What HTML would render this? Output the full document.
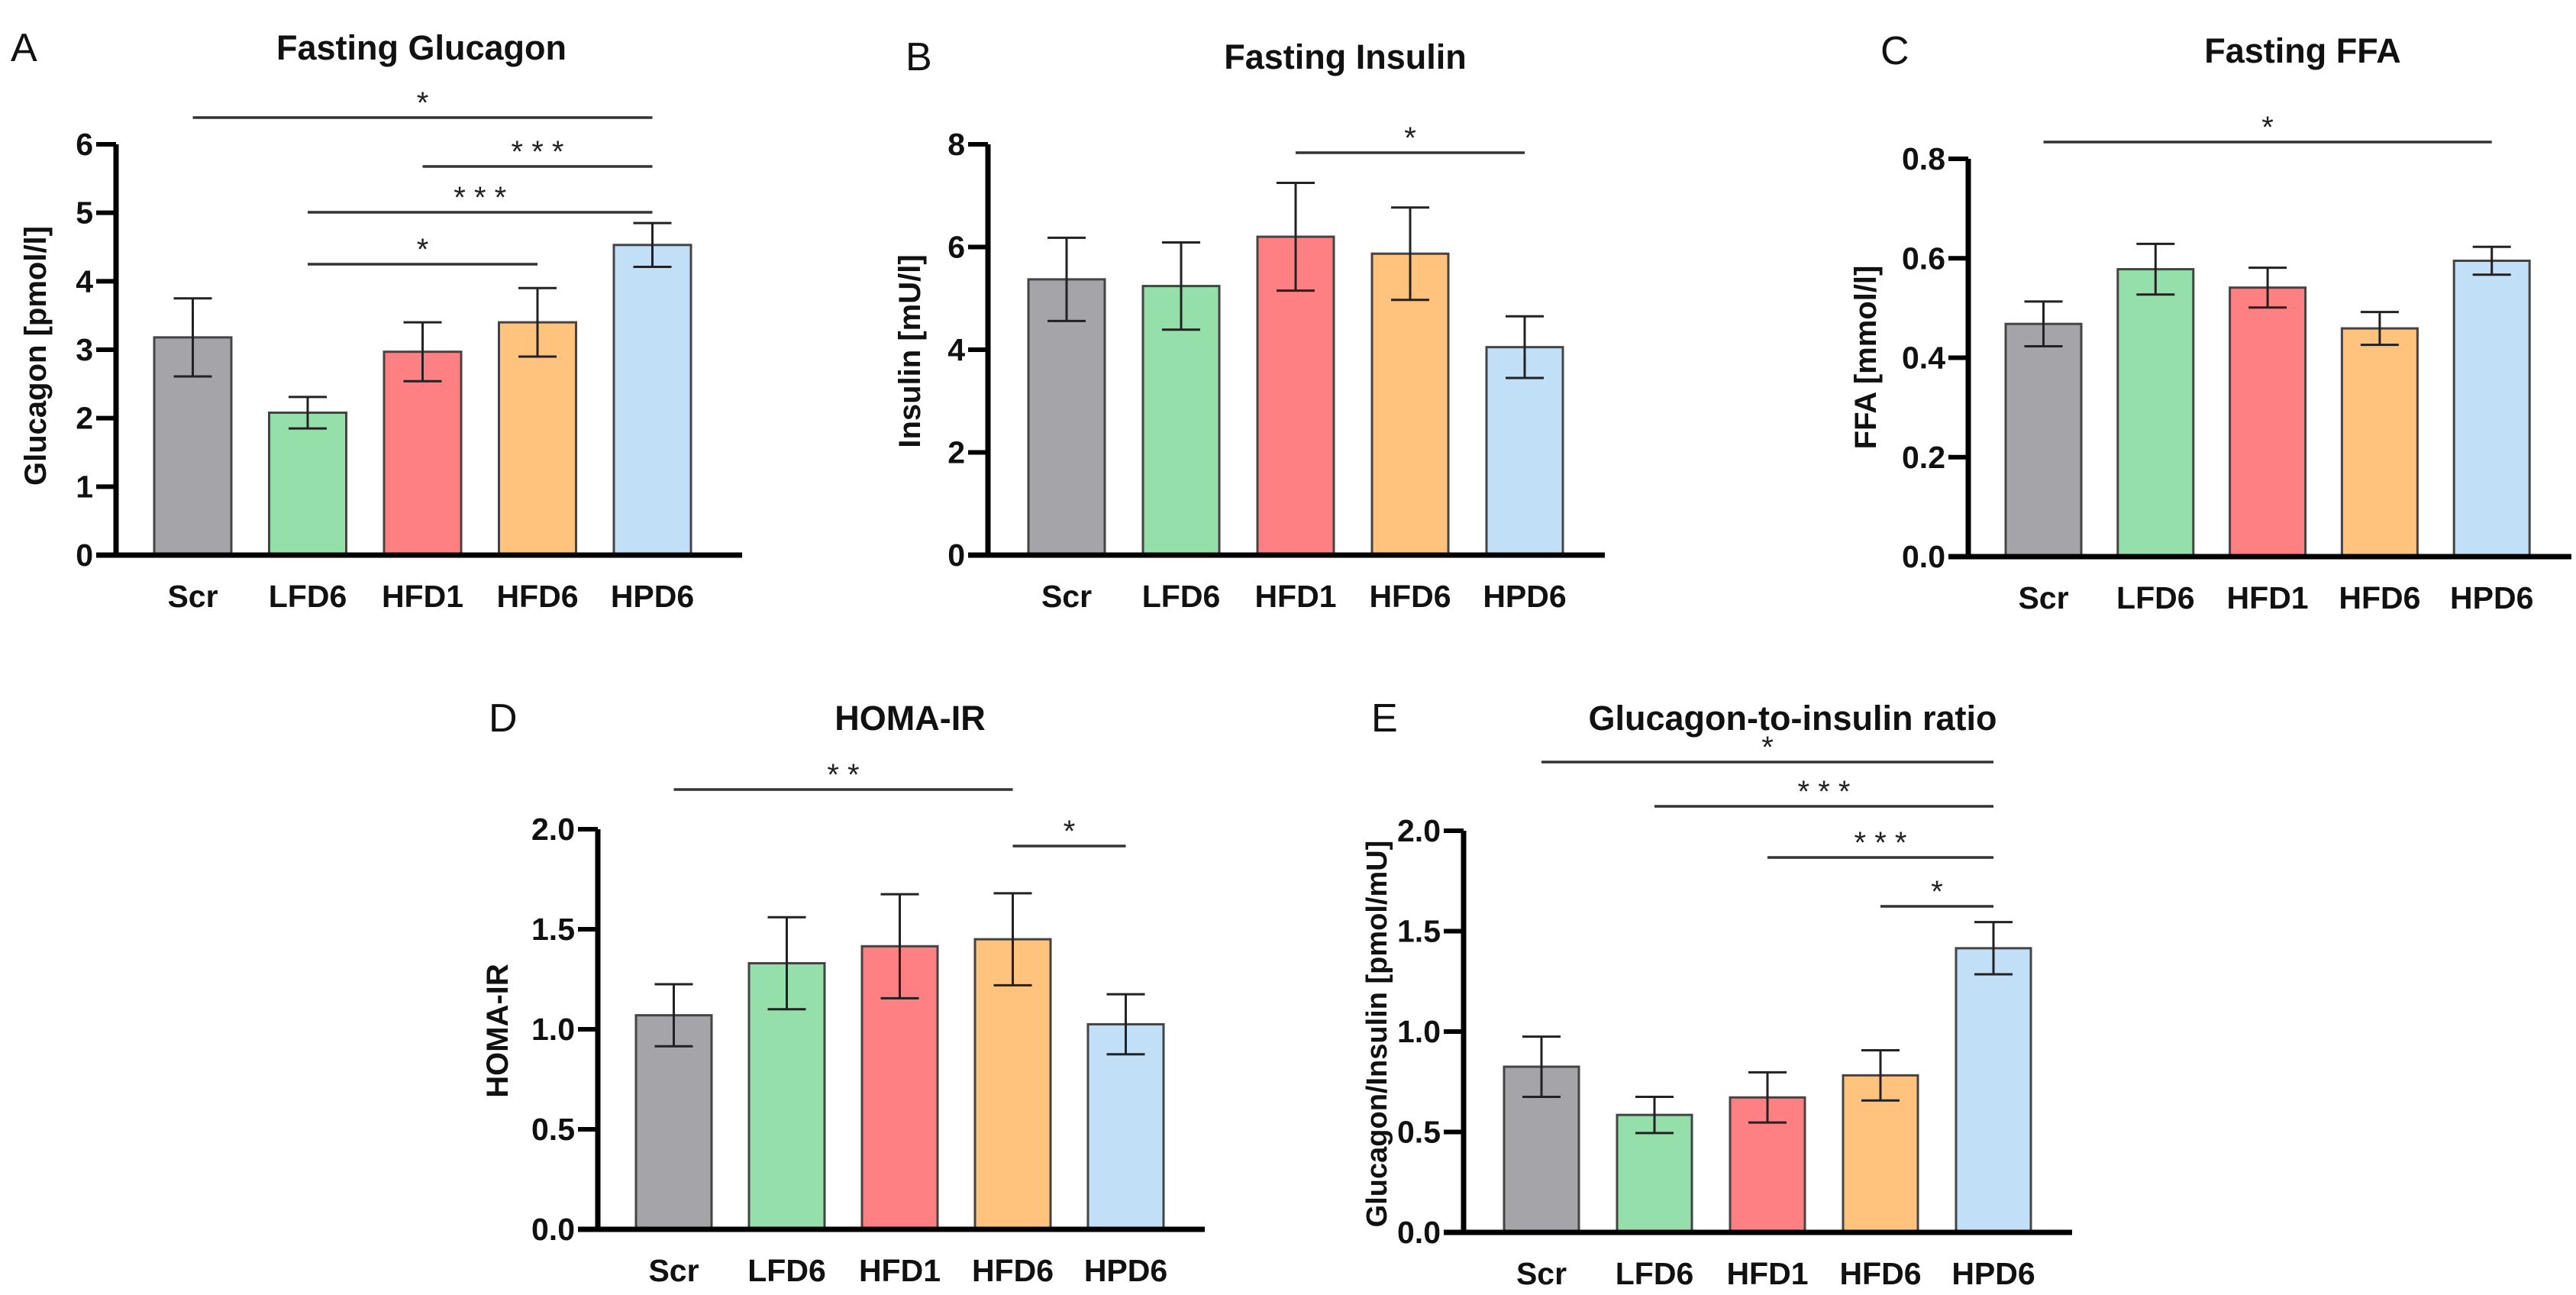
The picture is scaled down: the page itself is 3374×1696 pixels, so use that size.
<!DOCTYPE html>
<html><head><meta charset="utf-8"><style>
html,body{margin:0;padding:0;background:#fff;}
svg{display:block;font-family:"Liberation Sans",Arial,sans-serif;}
</style></head><body>
<svg id="fig" width="3374" height="1696" viewBox="0 0 3374 1696" xmlns="http://www.w3.org/2000/svg"></svg>
<script>
const categories = ["Scr","LFD6","HFD1","HFD6","HPD6"];
const barColors = ["#a5a4a9","#95e0aa","#ff8083","#ffc37e","#c1e0f8"];
// Panel A - Fasting Glucagon
const glucagonMean = [3.18, 2.08, 2.97, 3.4, 4.53];
const glucagonErr  = [0.57, 0.23, 0.43, 0.5, 0.32];
const glucagonTicks = ["0","1","2","3","4","5","6"];
// Panel B - Fasting Insulin
const insulinMean = [5.37, 5.24, 6.2, 5.87, 4.05];
const insulinErr  = [0.81, 0.85, 1.05, 0.9, 0.6];
const insulinTicks = ["0","2","4","6","8"];
// Panel C - Fasting FFA
const ffaMean = [0.468, 0.578, 0.541, 0.459, 0.595];
const ffaErr  = [0.045, 0.051, 0.04, 0.033, 0.028];
const ffaTicks = ["0.0","0.2","0.4","0.6","0.8"];
// Panel D - HOMA-IR
const homaMean = [1.07, 1.33, 1.415, 1.45, 1.025];
const homaErr  = [0.155, 0.23, 0.26, 0.23, 0.15];
const homaTicks = ["0.0","0.5","1.0","1.5","2.0"];
// Panel E - Glucagon-to-insulin ratio
const ratioMean = [0.825, 0.585, 0.672, 0.782, 1.415];
const ratioErr  = [0.15, 0.09, 0.125, 0.125, 0.13];
const ratioTicks = ["0.0","0.5","1.0","1.5","2.0"];
// significance brackets: [fromIndex, toIndex, label]
const sigA = [[0,4,"*"],[2,4,"* * *"],[1,4,"* * *"],[1,3,"*"]];
const sigB = [[2,4,"*"]];
const sigC = [[0,4,"*"]];
const sigD = [[0,3,"* *"],[3,4,"*"]];
const sigE = [[0,4,"*"],[1,4,"* * *"],[2,4,"* * *"],[3,4,"*"]];

const NS="http://www.w3.org/2000/svg";
const svg=document.getElementById("fig");
function mk(tag,attrs,parent){const e=document.createElementNS(NS,tag);for(const k in attrs)e.setAttribute(k,attrs[k]);(parent||svg).appendChild(e);return e;}

function panel(p){
  const g=mk("g",{});
  
  
  const ymax=p.max;
  const yS=v=>p.zero-(v/ymax)*(p.zero-p.top);
  const xL=i=>p.x0+i*p.step;
  const xC=i=>xL(i)+p.bw/2;
  const L=mk("text",{x:p.letterX,y:p.titleY+18,"font-size":52,fill:"#111"},g);L.textContent=p.letter;
  
  
  const T=mk("text",{x:p.titleX,y:p.titleY+16,"font-size":45,"font-weight":"bold","text-anchor":"middle",fill:"#111"},g);T.textContent=p.title;
  
  
  p.mean.forEach((m,i)=>{
    const r=mk("rect",{x:xL(i),y:yS(m),width:p.bw,height:p.zero-yS(m),fill:barColors[i],stroke:"#444","stroke-width":3},g);
    
    
    const e=p.err[i],cx=xC(i),t=yS(m+e),b=yS(m-e);
    const eb=mk("path",{d:`M${cx} ${t}V${b}M${cx-25} ${t}H${cx+25}M${cx-25} ${b}H${cx+25}`,stroke:"#222","stroke-width":3,fill:"none"},g);
    
    
    const lb=mk("text",{x:cx,y:p.zero+68,"font-size":41,"font-weight":"bold","text-anchor":"middle",fill:"#111"},g);lb.textContent=categories[i];
    
    
  });
  const ax=mk("path",{d:`M${p.axX} ${p.top}V${p.zero}M${p.axX-26} ${p.zero}H${p.axEnd}`,stroke:"#000","stroke-width":7,fill:"none"},g);
  
  
  const n=p.ticks.length;
  p.ticks.forEach((t,k)=>{
    const y=p.zero-(p.zero-p.top)*k/(n-1);
    const tk=mk("line",{x1:p.axX-26,x2:p.axX,y1:y,y2:y,stroke:"#000","stroke-width":6},g);
    
    
    const tl=mk("text",{x:p.axX-30,y:y+14,"font-size":41,"font-weight":"bold","text-anchor":"end",fill:"#111"},g);tl.textContent=t;
    
    
  });
  const yl=mk("text",{x:0,y:0,"font-size":p.ylSize||40,"font-weight":"bold","text-anchor":"middle",fill:"#111",transform:`translate(${p.ylX},${p.ylY}) rotate(-90)`},g);yl.textContent=p.ylabel;
  
  
  p.sig.forEach((s,k)=>{
    const y=p.sigY[k],x1=xC(s[0]),x2=xC(s[1]);
    const ln=mk("line",{x1:x1,x2:x2,y1:y,y2:y,stroke:"#333","stroke-width":3.5},g);
    
    
    const st=mk("text",{x:(x1+x2)/2,y:y-6,"font-size":40,"text-anchor":"middle",fill:"#222","xml:space":"preserve"},g);st.textContent=s[2];
    
    
  });
}

panel({id:"glucagon",letter:"A",letterX:14,title:"Fasting Glucagon",titleX:552,titleY:62,mean:glucagonMean,err:glucagonErr,ticks:glucagonTicks,max:6,
  zero:727,top:189,axX:152,axEnd:972,x0:202,step:150.5,bw:101,ylabel:"Glucagon [pmol/l]",ylX:60,ylY:466,sig:sigA,sigY:[154,218,278,346]});
panel({id:"insulin",letter:"B",letterX:1186,title:"Fasting Insulin",titleX:1762,titleY:74,mean:insulinMean,err:insulinErr,ticks:insulinTicks,max:8,
  zero:727,top:189,axX:1294,axEnd:2102,x0:1347,step:150,bw:100,ylabel:"Insulin [mU/l]",ylX:1205,ylY:460,sig:sigB,sigY:[200]});
panel({id:"ffa",letter:"C",letterX:2463,title:"Fasting FFA",titleX:3016,titleY:66,mean:ffaMean,err:ffaErr,ticks:ffaTicks,max:0.8,
  zero:729,top:208,axX:2578,axEnd:3368,x0:2627,step:146.8,bw:99,ylabel:"FFA [mmol/l]",ylX:2457,ylY:468,sig:sigC,sigY:[186]});
panel({id:"homa",letter:"D",letterX:640,title:"HOMA-IR",titleX:1192,titleY:940,mean:homaMean,err:homaErr,ticks:homaTicks,max:2,
  zero:1610,top:1086,axX:783,axEnd:1578,x0:833,step:148,bw:99,ylabel:"HOMA-IR",ylX:665,ylY:1350,sig:sigD,sigY:[1034,1108]});
panel({id:"ratio",letter:"E",letterX:1796,title:"Glucagon-to-insulin ratio",titleX:2348,titleY:940,mean:ratioMean,err:ratioErr,ticks:ratioTicks,max:2,
  zero:1614,top:1088,axX:1917,axEnd:2714,x0:1970,step:148,bw:98,ylabel:"Glucagon/Insulin [pmol/mU]",ylSize:38,ylX:1816,ylY:1354,sig:sigE,sigY:[998,1056,1123,1187]});
</script>
</body></html>
